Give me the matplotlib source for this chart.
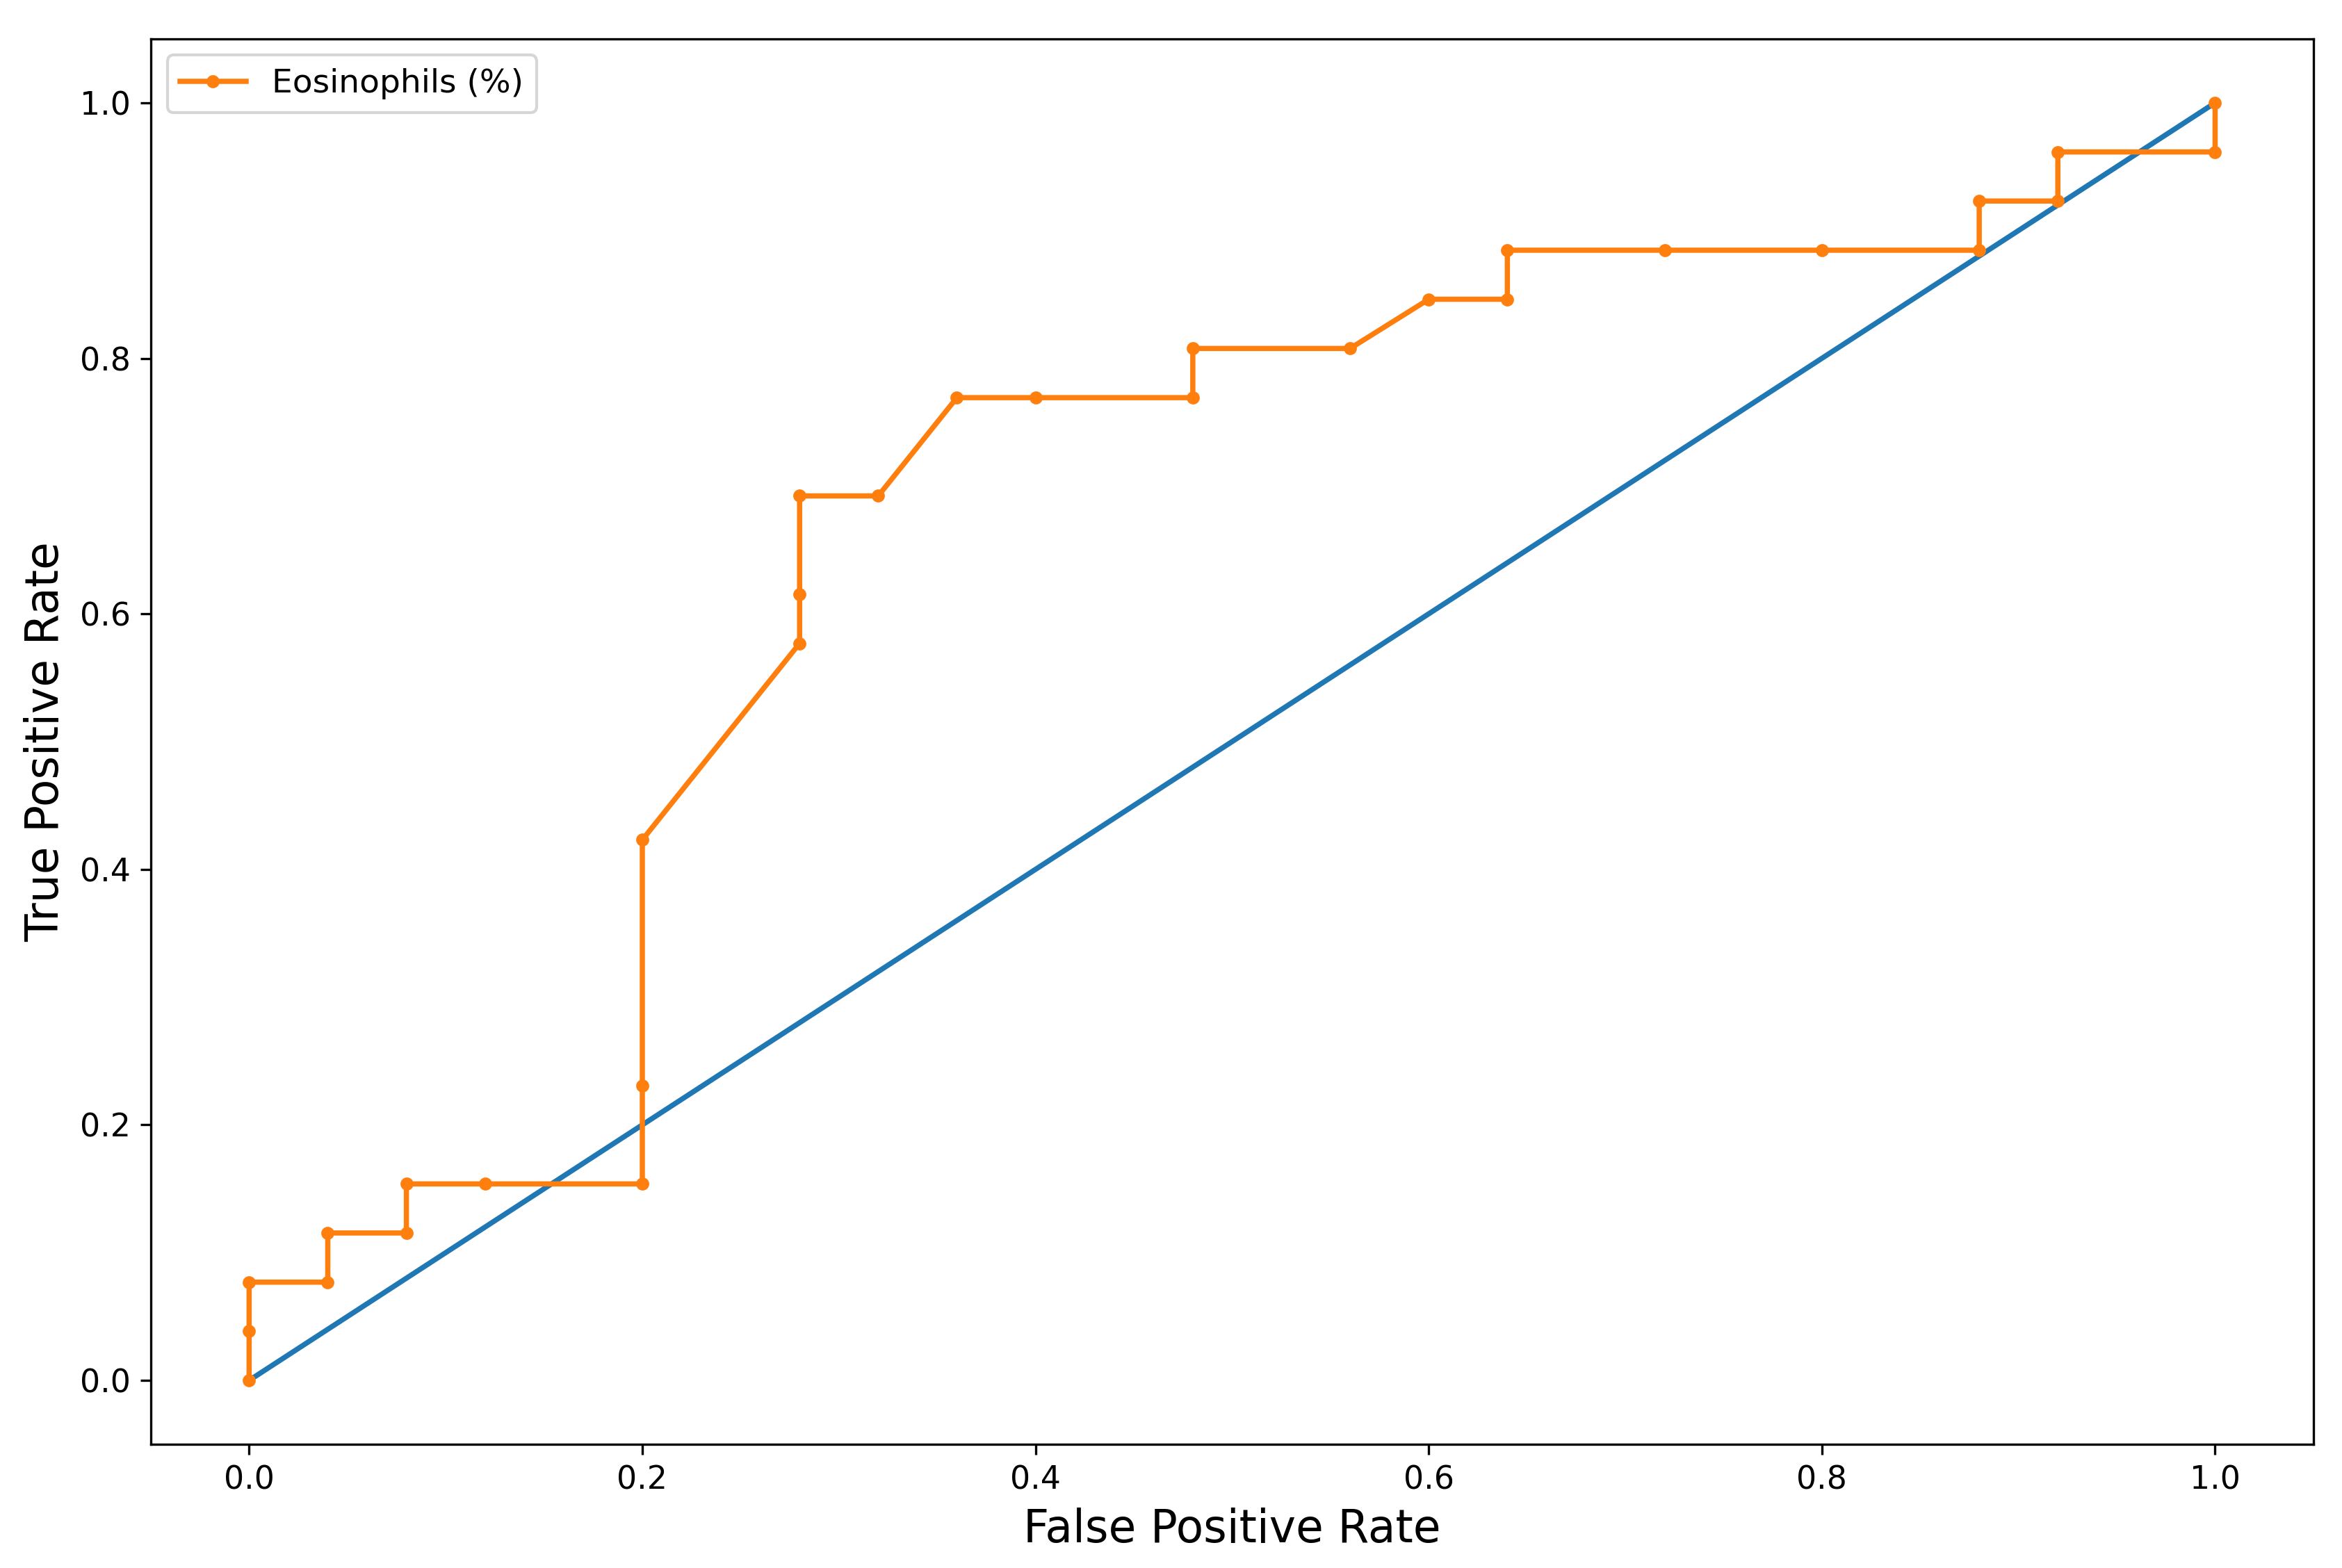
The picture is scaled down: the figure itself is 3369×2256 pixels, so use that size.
import matplotlib
matplotlib.use('Agg')
import matplotlib.pyplot as plt

# ROC points (FPR steps of 1/25, TPR steps of 1/26)
fpr = [0.0, 0.0, 0.0, 0.04, 0.04, 0.08, 0.08, 0.12, 0.20, 0.20, 0.20,
       0.28, 0.28, 0.28, 0.32, 0.36, 0.40, 0.48, 0.48, 0.56, 0.60, 0.64,
       0.64, 0.72, 0.80, 0.88, 0.88, 0.92, 0.92, 1.0, 1.0]
tpr = [0.0, 0.0385, 0.0769, 0.0769, 0.1154, 0.1154, 0.1538, 0.1538, 0.1538,
       0.2308, 0.4231, 0.5769, 0.6154, 0.6923, 0.6923, 0.7692, 0.7692,
       0.7692, 0.8077, 0.8077, 0.8462, 0.8462, 0.8846, 0.8846, 0.8846,
       0.8846, 0.9231, 0.9231, 0.9615, 0.9615, 1.0]
diag = [0, 1]
label = 'Eosinophils (%)'

fig = plt.figure(figsize=(11.23, 7.52), dpi=300)
ax = fig.add_axes([0.0644, 0.0789, 0.9234, 0.8963])

ax.plot(diag, diag, lw=1.8)
ax.plot(fpr, tpr, marker='.', ms=7, lw=1.8, label=label)

ax.set_xlabel('False Positive Rate', fontsize=15.5)
ax.set_ylabel('True Positive Rate', fontsize=15.5)
ax.tick_params(labelsize=11)
ax.legend(loc='upper left', fontsize=11.3)

fig.savefig('out.png', dpi=300)
